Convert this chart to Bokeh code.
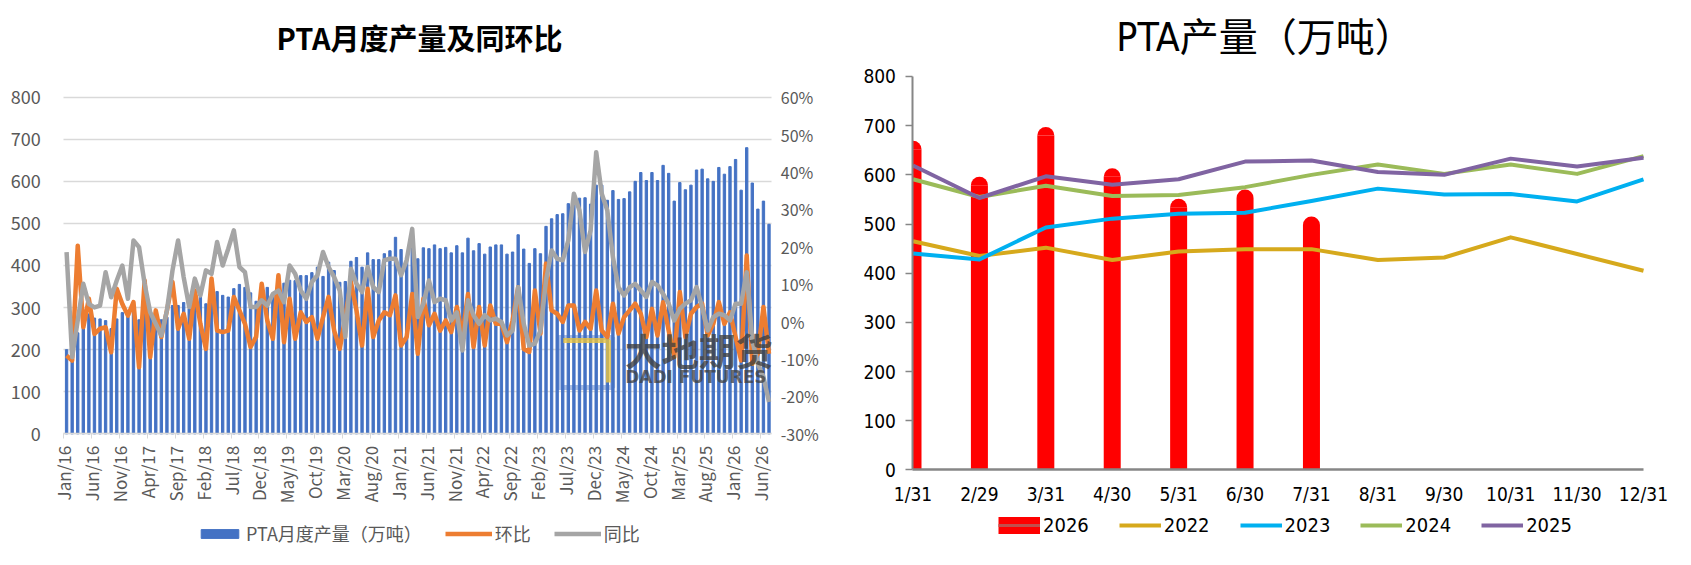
import math
from bokeh.plotting import figure
from bokeh.models import (Range1d, LinearAxis, FixedTicker, Legend, LegendItem,
                          PrintfTickFormatter, Label)
from bokeh.layouts import row
from bokeh.embed import file_html
from bokeh.resources import INLINE

# ---------------- data ----------------
month_abbr = ["Jan", "Feb", "Mar", "Apr", "May", "Jun",
              "Jul", "Aug", "Sep", "Oct", "Nov", "Dec"]
years = [2016, 2017, 2018, 2019, 2020, 2021, 2022, 2023, 2024, 2025, 2026]

# PTA monthly output (10k t)
prod_2016 = [200, 195, 240, 260, 285, 275, 273, 269, 250, 273, 288, 278]
prod_2017 = [300, 271, 300, 290, 293, 271, 277, 305, 305, 312, 297, 325]
prod_2018 = [325, 309, 340, 338, 329, 325, 345, 355, 348, 335, 315, 325]
prod_2019 = [348, 330, 340, 358, 365, 364, 376, 376, 383, 396, 374, 408]
prod_2020 = [388, 360, 362, 410, 419, 396, 430, 414, 414, 428, 435, 467]
prod_2021 = [438, 420, 445, 416, 442, 440, 449, 440, 443, 430, 447, 430]
prod_2022 = [465, 435, 452, 427, 444, 449, 449, 427, 432, 473, 439, 405]
prod_2023 = [440, 428, 493, 511, 521, 523, 547, 572, 560, 561, 546, 591]
prod_2024 = [591, 555, 578, 557, 559, 575, 600, 621, 602, 621, 602, 638]
prod_2025 = [619, 553, 597, 580, 591, 627, 629, 606, 600, 633, 617, 635]
prod_2026 = [652, 579, 680, 596, 534, 553, 498]

# month-on-month (%)
mom_2016 = [-9.1, -10.4, 20.3, -1.5, 6.1, -3.3, -1.9, -1.5, -8.2, 8.8, 4.7, 1.6]
mom_2017 = [5.2, -12.2, 11.0, -9.5, 3.0, -4.1, 3.0, 10.6, -1.9, 2.1, -4.6, 8.3]
mom_2018 = [-0.6, -7.3, 11.5, -2.4, -2.8, -2.4, 6.6, 3.0, -0.6, -6.8, -4.1, 10.1]
mom_2019 = [0.3, -4.6, 12.4, -5.5, 6.1, -4.6, 2.5, -0.1, 1.2, -4.6, 1.2, 6.6]
mom_2020 = [-2.4, -7.3, 1.2, 10.6, 3.0, -6.4, 8.8, -4.1, 0.3, 2.5, 1.7, 7.0]
mom_2021 = [-6.4, -4.1, 7.4, -8.6, 6.1, -1.0, 2.1, -2.4, 0.3, -2.8, 3.9, -3.7]
mom_2022 = [7.4, -6.8, 3.9, -6.4, 4.3, -0.6, -0.6, -5.5, 0.3, 9.2, -7.3, -8.1]
mom_2023 = [8.3, -3.2, 15.5, 3.0, 2.1, -0.1, 4.3, 4.3, -2.4, -0.1, -1.9, 8.3]
mom_2024 = [-2.4, -4.1, 4.8, -3.2, 1.2, 3.0, 4.8, 2.1, -4.1, 3.4, -3.7, 5.2]
mom_2025 = [-2.4, -9.5, 7.9, -4.1, 2.1, 3.9, 4.8, -3.7, -0.6, 5.2, -0.6, 2.5]
mom_2026 = [-4.1, -10.4, 17.7, -11.3, -8.6, 3.9, -8.6]

# year-on-year (%)
yoy_2016 = [18.6, -9.5, 0.3, 10.1, 4.7, 3.8, 4.3, 13.2, 6.5, 11.0, 15.0, 6.1]
yoy_2017 = [21.7, 19.9, 10.1, 2.5, -0.6, -3.7, 3.0, 13.7, 21.7, 11.9, 3.9, 11.5]
yoy_2018 = [7.0, 13.7, 12.8, 21.3, 15.0, 19.5, 24.4, 14.6, 13.2, 3.9, 3.9, 5.7]
yoy_2019 = [4.3, 7.4, 8.3, 5.2, 15.0, 12.8, 8.3, 6.1, 10.6, 12.4, 18.6, 14.6]
yoy_2020 = [11.9, 8.3, -4.1, 14.1, 10.1, 7.9, 14.6, 9.2, 7.9, 16.4, 16.8, 16.8]
yoy_2021 = [12.4, 16.4, 24.8, 1.2, 4.8, 11.0, 5.2, 6.1, 5.7, 0.3, 2.5, -7.7]
yoy_2022 = [5.7, 1.7, -0.6, 1.7, 0.3, 0.8, -0.1, -3.7, -2.4, 9.2, -0.6, -6.4]
yoy_2023 = [-5.9, -2.4, 11.0, 19.0, 16.8, 16.4, 21.7, 34.2, 29.7, 18.6, 24.4, 45.3]
yoy_2024 = [34.2, 29.7, 17.2, 9.2, 7.0, 9.2, 10.1, 8.3, 6.6, 10.6, 9.7, 7.4]
yoy_2025 = [4.8, 0.3, 3.4, 4.8, 5.7, 9.2, 3.9, -2.4, 1.2, 2.1, 1.7, 0.3]
yoy_2026 = [4.8, 4.8, 13.2, -5.0, -11.3, -14.8, -21.5]

# right chart categories
day_labels = ["1/31", "2/29", "3/31", "4/30", "5/31", "6/30",
              "7/31", "8/31", "9/30", "10/31", "11/30", "12/31"]

prod_all = (prod_2016 + prod_2017 + prod_2018 + prod_2019 + prod_2020 + prod_2021
            + prod_2022 + prod_2023 + prod_2024 + prod_2025 + prod_2026)
mom_all = (mom_2016 + mom_2017 + mom_2018 + mom_2019 + mom_2020 + mom_2021
           + mom_2022 + mom_2023 + mom_2024 + mom_2025 + mom_2026)
yoy_all = (yoy_2016 + yoy_2017 + yoy_2018 + yoy_2019 + yoy_2020 + yoy_2021
           + yoy_2022 + yoy_2023 + yoy_2024 + yoy_2025 + yoy_2026)
month_labels = [f"{month_abbr[m]}/{str(y)[2:]}" for y in years for m in range(12)][:len(prod_all)]
n = len(prod_all)
xc = [i + 0.5 for i in range(n)]

GRAY_TXT = "#595959"
CJK = "Noto Sans CJK SC"
NARROW = "Liberation Sans Narrow, DejaVu Sans Condensed, Roboto, Noto Sans CJK SC"

FIG_H = 565
TOP = 60

# ---------------- left chart ----------------
# frame spans the whole figure below the title; axes are pinned at fixed locations
L = figure(width=838, height=FIG_H, x_range=Range1d(-11.354, n + 11.964),
           y_range=Range1d(-313.0, 887.2),
           output_backend="svg", toolbar_location=None,
           min_border=0, min_border_left=0, min_border_right=0, min_border_top=TOP,
           min_border_bottom=0)
L.extra_y_ranges = {"pct": Range1d(-65.21, 69.81)}
L.outline_line_color = None

L.title.text = "PTA月度产量及同环比"
L.title.text_font = CJK
L.title.text_font_size = "29px"
L.title.text_font_style = "bold"
L.title.text_color = "black"
L.title.align = "center"
L.title.offset = 1
L.title.standoff = 6

bars = L.vbar(x=xc, top=prod_all, width=0.42, color="#4472C4")

# watermark (decoration)
L.rect(x=[93.6], y=[169.5], width=9.7, height=119, fill_color=None,
       line_color="#4472C4", line_alpha=0.45, line_width=5)
L.line(x=[89.6, 97.7, 97.7], y=[222, 222, 122], line_color="#E8C340",
       line_alpha=0.8, line_width=5)
wm1 = Label(x=100.6, y=136, text="大地期货", text_font=CJK, text_font_size="37px",
            text_font_style="bold", text_color="#404040", text_alpha=0.8)
wm2 = Label(x=100.7, y=111, text="DADI FUTURES", text_font="DejaVu Sans",
            text_font_size="17px", text_font_style="bold", text_color="#404040",
            text_alpha=0.75)
L.add_layout(wm1)
L.add_layout(wm2)

ln_mom = L.line(x=xc, y=mom_all, y_range_name="pct", line_color="#ED7D31",
                line_width=4.5, line_join="round")
ln_yoy = L.line(x=xc, y=yoy_all, y_range_name="pct", line_color="#A5A5A5",
                line_width=4.5, line_join="round")

L.ygrid.ticker = FixedTicker(ticks=list(range(0, 801, 100)))
L.ygrid.grid_line_color = "#D9D9D9"
L.ygrid.grid_line_width = 1.5
L.ygrid.cross_bounds = (0, n)
L.xgrid.grid_line_color = None

ya = L.yaxis[0]
ya.fixed_location = 0
ya.bounds = (0, 800)
ya.ticker = FixedTicker(ticks=list(range(0, 801, 100)))
ya.axis_line_color = None
ya.major_tick_line_color = None
ya.minor_tick_line_color = None
ya.major_label_standoff = 17
ya.major_label_text_font = CJK
ya.major_label_text_font_size = "18px"
ya.major_label_text_color = GRAY_TXT

ra = LinearAxis(y_range_name="pct", ticker=FixedTicker(ticks=list(range(-30, 61, 10))),
                formatter=PrintfTickFormatter(format="%d%%"))
ra.fixed_location = n
ra.bounds = (-30, 60)
ra.axis_line_color = None
ra.major_tick_line_color = None
ra.minor_tick_line_color = None
ra.major_label_standoff = 3
ra.major_label_text_font = CJK
ra.major_label_text_font_size = "16px"
ra.major_label_text_color = GRAY_TXT
L.add_layout(ra, "right")

xa = L.xaxis[0]
xa.fixed_location = 0
xa.bounds = (0, n)
tick_idx = list(range(0, n, 5))
xa.ticker = FixedTicker(ticks=tick_idx)
xa.major_label_overrides = {i: month_labels[i] for i in tick_idx}
xa.major_label_orientation = math.pi / 2
xa.axis_line_color = "#D9D9D9"
xa.axis_line_width = 1.5
xa.major_tick_line_color = "#D9D9D9"
xa.major_tick_in = 0
xa.major_tick_out = 5
xa.minor_tick_line_color = None
xa.major_label_standoff = 7
xa.major_label_text_font = CJK
xa.major_label_text_font_size = "17px"
xa.major_label_text_color = GRAY_TXT

legL = Legend(items=[LegendItem(label="PTA月度产量（万吨）", renderers=[bars]),
                     LegendItem(label="环比", renderers=[ln_mom]),
                     LegendItem(label="同比", renderers=[ln_yoy])],
              orientation="horizontal", location=(196, 19),
              glyph_width=47, glyph_height=11, label_standoff=3, spacing=23,
              padding=0, margin=0, border_line_color=None, background_fill_alpha=0,
              label_text_font=CJK, label_text_font_size="18px", label_text_color=GRAY_TXT)
L.add_layout(legL, "center")

# ---------------- right chart ----------------
R = figure(width=853, height=FIG_H, x_range=Range1d(-1.1218, 11.7228),
           y_range=Range1d(-194.2, 832.5),
           output_backend="svg", toolbar_location=None,
           min_border=0, min_border_left=0, min_border_right=0, min_border_top=TOP,
           min_border_bottom=0)
R.outline_line_color = None
R.xgrid.grid_line_color = None
R.ygrid.grid_line_color = None

R.title.text = "PTA产量（万吨）"
R.title.text_font = NARROW
R.title.text_font_size = "39px"
R.title.text_font_style = "normal"
R.title.text_color = "black"
R.title.align = "center"
R.title.offset = -10
R.title.standoff = 2

xi = list(range(12))
x26 = xi[:len(prod_2026)]
hw = 0.128  # half bar width in category units
bar_left = [max(x - hw, 0) for x in x26]
bar_right = [x + hw for x in x26]
R.quad(left=bar_left, right=bar_right, bottom=[0] * len(x26), top=prod_2026,
       fill_color="#FF0000", line_color=None)
cap_start = [0.0 for x in x26]
cap_end = [math.pi / 2 if x == 0 else math.pi for x in x26]
R.wedge(x=x26, y=prod_2026, radius=8.5, radius_units="screen",
        start_angle=cap_start, end_angle=cap_end, fill_color="#FF0000", line_color=None)

series = [("2022", prod_2022, "#D6A91C"), ("2023", prod_2023, "#00B0F0"),
          ("2024", prod_2024, "#9BBB59"), ("2025", prod_2025, "#8064A2")]
line_r = []
for name, vals, col in series:
    r = R.line(x=xi, y=vals, line_color=col, line_width=4, line_join="round")
    line_r.append((name, r))

ry = R.yaxis[0]
ry.fixed_location = 0
ry.bounds = (0, 800)
ry.ticker = FixedTicker(ticks=list(range(0, 801, 100)))
ry.axis_line_color = "#868686"
ry.axis_line_width = 2
ry.major_tick_line_color = "#868686"
ry.major_tick_line_width = 1.5
ry.major_tick_in = 0
ry.major_tick_out = 7
ry.minor_tick_line_color = None
ry.major_label_standoff = 10
ry.major_label_text_font = NARROW
ry.major_label_text_font_size = "19px"
ry.major_label_text_color = "black"

rx = R.xaxis[0]
rx.fixed_location = 0
rx.bounds = (0, 11)
rx.ticker = FixedTicker(ticks=xi)
rx.major_label_overrides = {i: day_labels[i] for i in xi}
rx.axis_line_color = "#868686"
rx.axis_line_width = 2.5
rx.major_tick_line_color = None
rx.minor_tick_line_color = None
rx.major_label_standoff = 7
rx.major_label_text_font = NARROW
rx.major_label_text_font_size = "19px"
rx.major_label_text_color = "black"

nanx = [float("nan")]
d1 = R.line(x=nanx, y=nanx, line_color="#FF0000", line_width=17, line_cap="butt")
d2 = R.line(x=nanx, y=nanx, line_color="#C0504D", line_width=3)
legR = Legend(items=[LegendItem(label="2026", renderers=[d1, d2])]
              + [LegendItem(label=nm, renderers=[r]) for nm, r in line_r],
              orientation="horizontal", location=(160, 28),
              glyph_width=42, glyph_height=18, label_standoff=3, spacing=30,
              padding=0, margin=0, border_line_color=None, background_fill_alpha=0,
              label_text_font=NARROW, label_text_font_size="20px", label_text_color="black")
R.add_layout(legR, "center")

page = row(L, R)
open("out.html", "w").write(file_html(page, INLINE))
